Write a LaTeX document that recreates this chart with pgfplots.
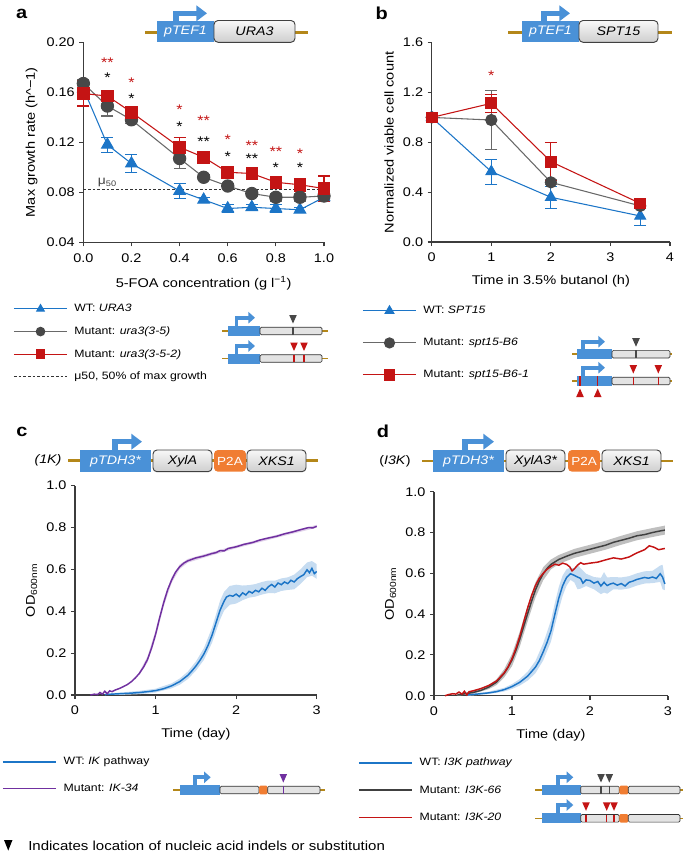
\documentclass[border=0pt]{standalone}
\usepackage{pgfplots}
\pgfplotsset{compat=1.18}
\usepackage{pgfplotstable}
\usetikzlibrary{arrows.meta}
\usepackage{fontspec}
\setmainfont{Liberation Sans}[FakeStretch=1.15]

\definecolor{cblue}{RGB}{28,117,199}
\definecolor{cgrey}{RGB}{105,105,105}
\definecolor{cgreym}{RGB}{72,72,72}
\definecolor{cred}{RGB}{196,20,20}
\definecolor{cpurple}{RGB}{112,48,160}
\definecolor{gblue}{RGB}{74,145,215}
\definecolor{gorange}{RGB}{240,125,50}
\definecolor{ggold}{RGB}{180,135,25}
\definecolor{axisc}{RGB}{60,60,60}

% panel a: max growth rate vs 5-FOA
\pgfplotstableread{
x y e
0.0 0.163 0.003
0.1 0.118 0.006
0.2 0.103 0.007
0.4 0.081 0.006
0.5 0.074 0.002
0.6 0.067 0.003
0.7 0.068 0.002
0.8 0.067 0.003
0.9 0.066 0.002
1.0 0.076 0.002
}\aWT
\pgfplotstableread{
x y e
0.0 0.167 0.003
0.1 0.149 0.008
0.2 0.138 0.003
0.4 0.107 0.008
0.5 0.092 0.002
0.6 0.085 0.002
0.7 0.079 0.002
0.8 0.076 0.003
0.9 0.076 0.003
1.0 0.077 0.002
}\aMa
\pgfplotstableread{
x y e
0.0 0.159 0.010
0.1 0.157 0.003
0.2 0.144 0.004
0.4 0.116 0.008
0.5 0.108 0.003
0.6 0.096 0.003
0.7 0.095 0.003
0.8 0.088 0.003
0.9 0.086 0.005
1.0 0.083 0.010
}\aMb

% panel b: viable cells in butanol
\pgfplotstableread{
x y e
0   1.000 0
1   0.565 0.10
2   0.359 0.09
3.5 0.209 0.08
}\bWT
\pgfplotstableread{
x y e
0   1.000 0
1   0.979 0.235
2   0.479 0.02
3.5 0.290 0.02
}\bMa
\pgfplotstableread{
x y e
0   1.000 0
1   1.113 0.07
2   0.645 0.155
3.5 0.310 0.02
}\bMb

% panel c: growth curves (mean OD)
\pgfplotstableread{
t y
0.37 0.002
0.50 0.005
0.60 0.007
0.70 0.009
0.80 0.012
0.90 0.016
1.00 0.021
1.10 0.030
1.20 0.044
1.30 0.064
1.40 0.094
1.45 0.115
1.50 0.138
1.55 0.165
1.60 0.196
1.65 0.236
1.70 0.285
1.75 0.345
1.80 0.405
1.85 0.448
1.88 0.468
1.92 0.476
1.96 0.472
2.00 0.482
2.04 0.470
2.08 0.488
2.12 0.478
2.16 0.495
2.20 0.487
2.24 0.500
2.28 0.493
2.32 0.510
2.36 0.500
2.40 0.517
2.44 0.528
2.48 0.516
2.52 0.535
2.56 0.527
2.60 0.540
2.64 0.532
2.68 0.548
2.72 0.540
2.76 0.556
2.80 0.566
2.84 0.575
2.88 0.598
2.91 0.584
2.94 0.605
2.97 0.580
3.00 0.590
}\cWT
\pgfplotstableread{
t y
0.19 0.000
0.24 0.004
0.28 0.002
0.31 0.012
0.34 0.004
0.37 0.018
0.40 0.006
0.43 0.020
0.46 0.016
0.50 0.024
0.55 0.031
0.60 0.040
0.65 0.050
0.70 0.064
0.75 0.082
0.80 0.104
0.85 0.133
0.90 0.170
0.95 0.224
1.00 0.290
1.05 0.368
1.10 0.440
1.15 0.503
1.20 0.550
1.25 0.588
1.30 0.613
1.35 0.630
1.40 0.641
1.50 0.655
1.60 0.664
1.70 0.676
1.75 0.680
1.80 0.690
1.85 0.688
1.90 0.700
2.00 0.708
2.10 0.720
2.20 0.728
2.30 0.741
2.40 0.750
2.50 0.758
2.60 0.770
2.70 0.779
2.80 0.790
2.90 0.800
2.95 0.798
3.00 0.806
}\cMu

% panel d: growth curves (mean OD)
\pgfplotstableread{
t y
0.43 0.004
0.55 0.008
0.70 0.014
0.80 0.020
0.90 0.030
1.00 0.045
1.10 0.066
1.20 0.096
1.30 0.140
1.35 0.172
1.40 0.215
1.45 0.262
1.50 0.318
1.55 0.400
1.60 0.478
1.65 0.540
1.70 0.580
1.75 0.598
1.80 0.590
1.84 0.582
1.88 0.575
1.91 0.552
1.95 0.568
2.00 0.565
2.05 0.552
2.10 0.560
2.14 0.538
2.18 0.556
2.22 0.540
2.26 0.548
2.30 0.552
2.35 0.542
2.40 0.550
2.45 0.538
2.50 0.556
2.55 0.562
2.60 0.570
2.65 0.575
2.70 0.580
2.75 0.576
2.80 0.582
2.85 0.575
2.90 0.598
2.93 0.582
2.96 0.548
}\dWT
\pgfplotstableread{
t y
0.30 0.004
0.40 0.010
0.50 0.016
0.60 0.026
0.70 0.042
0.80 0.066
0.90 0.110
0.95 0.140
1.00 0.175
1.05 0.222
1.10 0.278
1.15 0.340
1.20 0.402
1.25 0.462
1.30 0.518
1.35 0.562
1.40 0.598
1.45 0.624
1.50 0.644
1.60 0.668
1.70 0.684
1.80 0.698
1.90 0.708
2.00 0.718
2.10 0.728
2.20 0.738
2.30 0.752
2.40 0.762
2.50 0.772
2.60 0.784
2.70 0.790
2.80 0.800
2.90 0.808
2.96 0.812
}\dMa
\pgfplotstableread{
t y
0.14 0.000
0.19 0.006
0.24 0.010
0.28 0.008
0.32 0.018
0.36 0.008
0.39 0.022
0.42 0.004
0.45 0.020
0.50 0.024
0.60 0.035
0.70 0.050
0.80 0.072
0.90 0.112
0.95 0.142
1.00 0.182
1.05 0.232
1.10 0.292
1.15 0.362
1.20 0.430
1.25 0.490
1.30 0.540
1.35 0.576
1.40 0.600
1.45 0.620
1.50 0.634
1.55 0.645
1.60 0.640
1.65 0.650
1.70 0.644
1.74 0.632
1.77 0.612
1.80 0.622
1.84 0.640
1.88 0.652
1.92 0.645
2.00 0.650
2.10 0.655
2.20 0.666
2.30 0.676
2.40 0.670
2.50 0.680
2.60 0.700
2.70 0.716
2.76 0.735
2.82 0.728
2.88 0.716
2.96 0.722
}\dMb

\pgfplotsset{
  panel/.style={
    scale only axis, axis lines=left,
    axis line style={-, draw=axisc, line width=0.8pt},
    tick align=outside, major tick length=3pt,
    tick style={draw=axisc, line width=0.8pt},
    tick label style={font=\fontsize{9.4}{11}\selectfont},
    xticklabel style={yshift=-1.8pt},
    label style={font=\fontsize{9.5}{11}\selectfont},
    xlabel style={yshift=-3.5pt},
    /pgf/number format/assume math mode=true,
    clip=false,
    legend cell align=left,
    legend style={draw=none, fill=none, inner sep=0pt,
      font=\fontsize{8}{10}\selectfont,
      nodes={inner sep=0pt, text height=6.5pt, text depth=2pt},
      /tikz/every odd column/.append style={column sep=5pt}},
    legend image code/.code={\draw[mark repeat=2,mark phase=2,##1,mark size=3.2pt] plot coordinates {(0pt,0pt) (20pt,0pt) (40pt,0pt)};},
  },
  ebar/.style={error bars/.cd, y dir=both, y explicit,
    error bar style={#1, line width=0.8pt},
    error mark options={#1, rotate=90, mark size=4.5pt, line width=0.8pt}},
}
\tikzset{
  astar/.style={font=\fontsize{10.5}{11}\selectfont, inner sep=0pt, anchor=base, yshift=-6pt},
  gbox/.style={line width=0.7pt, draw=black!75, rounded corners=3pt, top color=gray!6, bottom color=gray!38},
  obox/.style={rounded corners=3pt, fill=gorange},
  garrow/.style={gblue, line width=3.8pt, -{Triangle[length=8pt,width=11.5pt]}},
  gtxt/.style={font=\fontsize{9.3}{10}\selectfont\itshape},
  sbox/.style={line width=0.5pt, draw=black!80, rounded corners=1pt, fill=gray!22},
  plabel/.style={font=\fontsize{13}{13}\selectfont\bfseries},
}
% small gene schematics
\newcommand{\sgene}[6]{%
  \draw[ggold, line width=1.2pt] (#2,#1) -- (#6,#1);
  \fill[gblue] (#3,#1-5) rectangle (#4,#1+5);
  \draw[sbox] (#4,#1-3.8) rectangle (#5,#1+3.8);}
\newcommand{\sgenep}[8]{%
  \draw[ggold, line width=1.2pt] (#2,#1) -- (#8,#1);
  \fill[gblue] (#3,#1-5) rectangle (#4,#1+5);
  \draw[sbox] (#4,#1-3.8) rectangle (#5,#1+3.8);
  \fill[gorange, rounded corners=1pt] (#5,#1-4.3) rectangle (#6,#1+4.3);
  \draw[sbox] (#6,#1-3.8) rectangle (#7,#1+3.8);}
\newcommand{\sarr}[4]{\draw[gblue, line width=2.8pt, -{Triangle[length=5pt,width=8.5pt]}] (#1,#2) -- (#1,#3) -- (#4,#3);}
\newcommand{\mdown}[3]{\fill[#3] (#1-3.8,#2-16) -- (#1+3.8,#2-16) -- (#1,#2-7.5) -- cycle;
  \draw[#3, line width=1pt] (#1,#2-3.8) -- (#1,#2+3.8);}
\newcommand{\mup}[3]{\fill[#3] (#1-3.8,#2+16) -- (#1+3.8,#2+16) -- (#1,#2+7.5) -- cycle;
  \draw[#3, line width=1pt] (#1,#2-5) -- (#1,#2+5);}

\begin{document}
\begin{tikzpicture}
\begin{scope}[x=0.75pt,y=-0.75pt]
\useasboundingbox (0,0) rectangle (685,854);
\end{scope}

%% ---------- a ----------
\begin{axis}[panel, at={(62.5pt,-181.7pt)}, anchor=south west,
  width=180.5pt, height=150pt,
  xmin=0, xmax=1, ymin=0.04, ymax=0.2,
  xtick={0,0.2,0.4,0.6,0.8,1}, ytick={0.04,0.08,0.12,0.16,0.2},
  xticklabel style={/pgf/number format/.cd,fixed,fixed zerofill,precision=1},
  yticklabel style={/pgf/number format/.cd,fixed,fixed zerofill,precision=2},
  xlabel={5-FOA concentration (g l\textsuperscript{−1})},
  ylabel={Max growth rate (h\textasciicircum−1)},
  legend style={at={(-0.292,-0.3035)}, anchor=north west, row sep=8.5pt}]
\addplot[cblue, line width=0.8pt, mark=triangle*, mark size=5pt, ebar=cblue]
  table[x=x, y=y, y error=e] {\aWT};
\addlegendentry{WT: \textit{URA3}}
\addplot[cgrey, line width=0.8pt, mark=*, mark size=4.6pt, mark options={fill=cgreym, draw=cgreym}, ebar=cgrey]
  table[x=x, y=y, y error=e] {\aMa};
\addlegendentry{Mutant: \textit{ura3(3-5)}}
\addplot[cred, line width=0.8pt, mark=square*, mark size=4.3pt, ebar=cred]
  table[x=x, y=y, y error=e] {\aMb};
\addlegendentry{Mutant: \textit{ura3(3-5-2)}}
\addplot[black!80, line width=0.7pt, dash pattern=on 2pt off 1.5pt, mark=none]
  coordinates {(0,0.082) (1,0.082)};
\addlegendentry{μ50, 50\% of max growth}
\node[font=\fontsize{9}{10}\selectfont, text=black!75] at (axis cs:0.1,0.0875) {μ\textsubscript{50}};
% significance marks
\node[astar, cred] at (axis cs:0.1,0.1859) {**};
\node[astar, cred] at (axis cs:0.2,0.1699) {*};
\node[astar, cred] at (axis cs:0.4,0.1490) {*};
\node[astar, cred] at (axis cs:0.5,0.1395) {**};
\node[astar, cred] at (axis cs:0.6,0.1248) {*};
\node[astar, cred] at (axis cs:0.7,0.1201) {**};
\node[astar, cred] at (axis cs:0.8,0.1149) {**};
\node[astar, cred] at (axis cs:0.9,0.1136) {*};
\node[astar] at (axis cs:0.1,0.1741) {*};
\node[astar] at (axis cs:0.2,0.1571) {*};
\node[astar] at (axis cs:0.4,0.1347) {*};
\node[astar] at (axis cs:0.5,0.1232) {**};
\node[astar] at (axis cs:0.6,0.1107) {*};
\node[astar] at (axis cs:0.7,0.1091) {**};
\node[astar] at (axis cs:0.8,0.1025) {*};
\node[astar] at (axis cs:0.9,0.1019) {*};
\end{axis}

%% ---------- b ----------
\begin{axis}[panel, at={(323.8pt,-181.5pt)}, anchor=south west,
  width=178.7pt, height=149.5pt,
  xmin=0, xmax=4, ymin=0, ymax=1.6,
  xtick={0,1,2,3,4}, ytick={0,0.4,0.8,1.2,1.6},
  yticklabel style={/pgf/number format/.cd,fixed,fixed zerofill,precision=1},
  xlabel={Time in 3.5\% butanol (h)},
  ylabel={Normalized viable cell count},
  legend image code/.code={\draw[mark repeat=2,mark phase=2,#1,mark size=3.8pt] plot coordinates {(0pt,0pt) (20pt,0pt) (40pt,0pt)};},
  legend style={at={(-0.2925,-0.316)}, anchor=north west, row sep=15.5pt}]
\addplot[cblue, line width=0.8pt, mark=triangle*, mark size=4.6pt, ebar=cblue]
  table[x=x, y=y, y error=e] {\bWT};
\addlegendentry{WT: \textit{SPT15}}
\addplot[cgrey, line width=0.8pt, mark=*, mark size=4.2pt, mark options={fill=cgreym, draw=cgreym}, ebar=cgrey]
  table[x=x, y=y, y error=e] {\bMa};
\addlegendentry{Mutant: \textit{spt15-B6}}
\addplot[cred, line width=0.8pt, mark=square*, mark size=4pt, ebar=cred]
  table[x=x, y=y, y error=e] {\bMb};
\addlegendentry{Mutant: \textit{spt15-B6-1}}
\node[astar, cred] at (axis cs:1,1.36) {*};
\end{axis}

%% ---------- c ----------
\begin{axis}[panel, at={(56.25pt,-521.25pt)}, anchor=south west,
  width=181.3pt, height=157pt,
  xmin=0, xmax=3, ymin=0, ymax=1,
  xtick={0,1,2,3}, ytick={0,0.2,0.4,0.6,0.8,1},
  yticklabel style={/pgf/number format/.cd,fixed,fixed zerofill,precision=1},
  xlabel={Time (day)}, ylabel={OD\textsubscript{600nm}},
  legend style={at={(-0.302,-0.291)}, anchor=north west, row sep=11.5pt}]
% spread between replicates
\addplot[fill=cblue!25, draw=none, forget plot] coordinates {
 (0.37,0.006) (0.6,0.013) (0.8,0.020) (1.0,0.030) (1.2,0.056) (1.3,0.079) (1.4,0.112)
 (1.5,0.160) (1.6,0.224) (1.7,0.321) (1.75,0.385) (1.8,0.450) (1.85,0.493) (1.92,0.521)
 (2.0,0.527) (2.08,0.523) (2.16,0.525) (2.24,0.530) (2.32,0.540) (2.4,0.547) (2.48,0.546)
 (2.56,0.557) (2.64,0.562) (2.72,0.575) (2.8,0.601) (2.88,0.633) (2.94,0.640) (3.0,0.625)
 (3.0,0.555) (2.94,0.570) (2.88,0.563) (2.8,0.531) (2.72,0.505) (2.64,0.502) (2.56,0.497)
 (2.48,0.486) (2.4,0.487) (2.32,0.480) (2.24,0.470) (2.16,0.465) (2.08,0.453) (2.0,0.437)
 (1.92,0.431) (1.85,0.403) (1.8,0.360) (1.75,0.305) (1.7,0.249) (1.6,0.168) (1.5,0.116)
 (1.4,0.076) (1.3,0.049) (1.2,0.032) (1.0,0.012) (0.8,0.004) (0.6,0.001) (0.37,0.0)};
\addplot[fill=cpurple!22, draw=none, forget plot] coordinates {
 (0.8,0.112) (0.9,0.184) (1.0,0.308) (1.1,0.458) (1.2,0.564) (1.3,0.624) (1.4,0.650)
 (1.6,0.672) (2.0,0.715) (2.5,0.765) (3.0,0.813)
 (3.0,0.799) (2.5,0.751) (2.0,0.701) (1.6,0.656) (1.4,0.632) (1.3,0.602) (1.2,0.536)
 (1.1,0.422) (1.0,0.272) (0.9,0.156) (0.8,0.096)};
\addplot[cblue, line width=1.1pt, mark=none] table[x=t, y=y] {\cWT};
\addlegendentry{WT: \textit{IK} pathway}
\addplot[cpurple, line width=1.1pt, mark=none] table[x=t, y=y] {\cMu};
\addlegendentry{Mutant: \textit{IK-34}}
\end{axis}

%% ---------- d ----------
\begin{axis}[panel, at={(325.5pt,-521.8pt)}, anchor=south west,
  width=175.5pt, height=153pt,
  xmin=0, xmax=3, ymin=0, ymax=1,
  xtick={0,1,2,3}, ytick={0,0.2,0.4,0.6,0.8,1},
  yticklabel style={/pgf/number format/.cd,fixed,fixed zerofill,precision=1},
  xlabel={Time (day)}, ylabel={OD\textsubscript{600nm}},
  legend style={at={(-0.325,-0.30)}, anchor=north west, row sep=12pt}]
\addplot[fill=black!25, draw=none, forget plot] coordinates {
 (0.3,0.008) (0.5,0.022) (0.7,0.052) (0.8,0.080) (0.9,0.130) (1.0,0.205) (1.1,0.315)
 (1.2,0.440) (1.3,0.555) (1.4,0.630) (1.5,0.668) (1.6,0.690) (1.8,0.720) (2.0,0.740)
 (2.2,0.760) (2.4,0.784) (2.6,0.806) (2.8,0.822) (2.96,0.834)
 (2.96,0.790) (2.8,0.778) (2.6,0.762) (2.4,0.740) (2.2,0.716) (2.0,0.696) (1.8,0.676)
 (1.6,0.646) (1.5,0.620) (1.4,0.566) (1.3,0.481) (1.2,0.364) (1.1,0.241) (1.0,0.145)
 (0.9,0.090) (0.8,0.052) (0.7,0.032) (0.5,0.010) (0.3,0.0)};
\addplot[fill=cblue!25, draw=none, forget plot] coordinates {
 (0.43,0.008) (0.7,0.020) (0.9,0.039) (1.0,0.057) (1.1,0.082) (1.2,0.118) (1.3,0.170)
 (1.4,0.257) (1.5,0.370) (1.55,0.455) (1.6,0.533) (1.65,0.590) (1.7,0.620) (1.75,0.628)
 (1.8,0.625) (1.84,0.642) (1.88,0.625) (1.95,0.598) (2.05,0.582) (2.14,0.578) (2.18,0.606)
 (2.22,0.580) (2.3,0.582) (2.4,0.580) (2.5,0.586) (2.6,0.600) (2.7,0.610) (2.8,0.612)
 (2.9,0.638) (2.93,0.642) (2.96,0.578)
 (2.96,0.518) (2.93,0.522) (2.9,0.558) (2.8,0.552) (2.7,0.550) (2.6,0.540) (2.5,0.526)
 (2.4,0.520) (2.3,0.522) (2.22,0.500) (2.18,0.506) (2.14,0.498) (2.05,0.522) (1.95,0.538)
 (1.88,0.525) (1.84,0.522) (1.8,0.555) (1.75,0.568) (1.7,0.540) (1.65,0.490) (1.6,0.423)
 (1.55,0.345) (1.5,0.266) (1.4,0.173) (1.3,0.110) (1.2,0.074) (1.1,0.050) (1.0,0.033)
 (0.9,0.021) (0.7,0.008) (0.43,0.0)};
\addplot[cblue, line width=1.1pt, mark=none] table[x=t, y=y] {\dWT};
\addlegendentry{WT: \textit{I3K pathway}}
\addplot[black!75, line width=1.1pt, mark=none] table[x=t, y=y] {\dMa};
\addlegendentry{Mutant: \textit{I3K-66}}
\addplot[cred, line width=1.1pt, mark=none] table[x=t, y=y] {\dMb};
\addlegendentry{Mutant: \textit{I3K-20}}
\end{axis}

\begin{scope}[x=0.75pt,y=-0.75pt]
%% ---------- panel letters ----------
\node[plabel] at (21.7,14) {a};
\node[plabel] at (381.7,13) {b};
\node[plabel] at (22,432) {c};
\node[plabel] at (383,431) {d};

%% ---------- big construct schematics ----------
% a
\draw[ggold, line width=2pt] (145,32.3) -- (308,32.3);
\fill[gblue] (157,20.5) rectangle (214,42.3);
\draw[gbox] (214,20.5) rectangle (295,42.3);
\draw[garrow] (176,20.5) -- (176,13.3) -- (207,13.3);
\node[gtxt, white] at (185.5,31.5) {pTEF1};
\node[gtxt] at (254.5,31.5) {URA3};
% b
\draw[ggold, line width=2pt] (508,32.3) -- (672,32.3);
\fill[gblue] (522,20.5) rectangle (579,42.3);
\draw[gbox] (579,20.5) rectangle (658,42.3);
\draw[garrow] (544,20.5) -- (544,13.3) -- (570,13.3);
\node[gtxt, white] at (550.5,31.5) {pTEF1};
\node[gtxt] at (618.5,31.5) {SPT15};
% c
\draw[ggold, line width=2pt] (68,460.7) -- (318,460.7);
\fill[gblue] (80,450) rectangle (151,471.7);
\draw[gbox] (153,450) rectangle (212,471.7);
\fill[obox] (214,450) rectangle (246,471.7);
\draw[gbox] (247,450) rectangle (306,471.7);
\draw[garrow] (115,450) -- (115,441.7) -- (142,441.7);
\node[gtxt] at (48,460.5) {(1K)};
\node[gtxt, white] at (115.5,461) {pTDH3*};
\node[gtxt] at (182.5,461) {XylA};
\node[font=\fontsize{8.8}{10}\selectfont, white] at (230,461) {P2A};
\node[gtxt] at (276.5,461) {XKS1};
% d
\draw[ggold, line width=2pt] (422,461) -- (673,461);
\fill[gblue] (433,450) rectangle (504,471.7);
\draw[gbox] (506,450) rectangle (565,471.7);
\fill[obox] (568,450) rectangle (600,471.7);
\draw[gbox] (602,450) rectangle (661,471.7);
\draw[garrow] (465,450) -- (465,441.7) -- (494,441.7);
\node[font=\fontsize{9.3}{10}\selectfont] at (395,461) {(\textit{I3K})};
\node[gtxt, white] at (468.5,461) {pTDH3*};
\node[gtxt] at (535.5,461) {XylA3*};
\node[font=\fontsize{8.8}{10}\selectfont, white] at (584,461) {P2A};
\node[gtxt] at (631.5,461) {XKS1};

%% ---------- small mutant schematics ----------
% a
\sgene{331}{222}{228}{260}{322}{328}
\sarr{236.5}{326}{317.7}{255}
\mdown{293}{331}{cgreym}
\sgene{358.5}{222}{228}{260}{322}{328}
\sarr{236.5}{353.5}{346}{255}
\mdown{294}{358.5}{cred}
\mdown{304}{358.5}{cred}
% b
\sgene{354.2}{572}{577}{612}{670}{672}
\sarr{583.3}{349.2}{341.7}{605}
\mdown{636}{354.2}{cgreym}
\sgene{381}{572}{577}{612}{670}{672}
\sarr{583.3}{376}{367.7}{605}
\mup{580}{381}{cred}
\mup{597.7}{381}{cred}
\mdown{633.3}{381}{cred}
\mdown{658.3}{381}{cred}
% c
\sgenep{790}{173.3}{180}{220}{259}{267.7}{320}{325}
\sarr{195}{785}{777.3}{210.7}
\mdown{283.3}{790}{cpurple}
% d
\sgenep{790}{535}{541.7}{580.7}{619.3}{628.3}{680}{683.3}
\sarr{558.3}{785}{777.3}{573.3}
\mdown{601}{790}{cgreym}
\mdown{609.3}{790}{cgreym}
\sgenep{818.3}{535}{541.7}{580.7}{619.3}{628.3}{680}{683.3}
\sarr{558.3}{813.3}{805}{573.3}
\mdown{586}{818.3}{cred}
\mdown{606.7}{818.3}{cred}
\mdown{614}{818.3}{cred}

%% ---------- footnote ----------
\fill[black] (4,840) -- (12.5,840) -- (8.25,850.5) -- cycle;
\node[anchor=west, font=\fontsize{9.8}{11}\selectfont, inner sep=0pt] at (28,845.5)
  {Indicates location of nucleic acid indels or substitution};
\end{scope}
\end{tikzpicture}
\end{document}
